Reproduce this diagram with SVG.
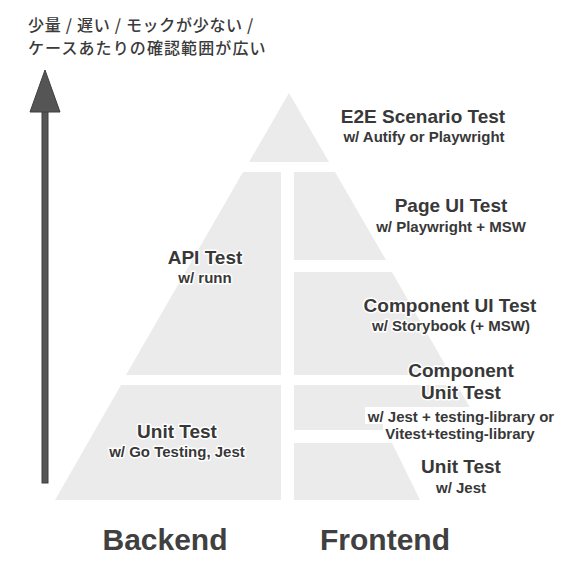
<svg xmlns="http://www.w3.org/2000/svg" width="586" height="572" viewBox="0 0 586 572">
  <style>
    .tier { fill: #ebebeb; }
    .t { font-family: "Liberation Sans", Arial, sans-serif; font-weight: bold; fill: #383838; text-anchor: middle; stroke: #ffffff; stroke-width: 3; stroke-linejoin: round; paint-order: stroke; }
    .h { font-size: 19px; }
    .s { font-size: 15px; }
    .big { font-size: 30px; fill: #404040; stroke: none; }
    .jp { font-family: "Noto Sans CJK JP", "Noto Sans", sans-serif; font-size: 16px; letter-spacing: 1.1px; font-weight: 500; fill: #3a3a3a; }
  </style>
  <rect width="586" height="572" fill="#ffffff"/>

  <g id="caption">
    <text class="jp" x="28" y="30.5" style="letter-spacing:0.7px">少量 / 遅い / モックが少ない /</text>
    <text class="jp" x="28" y="54">ケースあたりの確認範囲が広い</text>
  </g>

  <g id="axis-arrow">
    <rect x="42" y="110" width="6" height="373" fill="#555555" stroke="#3f3f3f" stroke-width="1"/>
    <polygon points="45,70 60,112 30,112" fill="#555555" stroke="#3f3f3f" stroke-width="1" stroke-linejoin="round"/>
  </g>

  <g id="e2e">
    <polygon class="tier" points="289,93 329,162 249,162"/>
    <text class="t h" x="423" y="123">E2E Scenario Test</text>
    <text class="t s" x="424" y="142">w/ Autify or Playwright</text>
  </g>

  <g id="api-test">
    <polygon class="tier" points="243,172 281,172 281,375 126,375"/>
    <text class="t h" x="205" y="264">API Test</text>
    <text class="t s" x="205" y="283">w/ runn</text>
  </g>

  <g id="backend-unit-test">
    <polygon class="tier" points="121,385 281,385 281,500 55,500"/>
    <text class="t h" x="177" y="438">Unit Test</text>
    <text class="t s" x="177" y="457">w/ Go Testing, Jest</text>
  </g>

  <g id="page-ui-test">
    <polygon class="tier" points="294,172 335,172 386,260 294,260"/>
    <text class="t h" x="451" y="212">Page UI Test</text>
    <text class="t s" x="451" y="232">w/ Playwright + MSW</text>
  </g>

  <g id="component-ui-test">
    <polygon class="tier" points="294,272 392,272 451,375 294,375"/>
    <text class="t h" x="450" y="312">Component UI Test</text>
    <text class="t s" x="451" y="331">w/ Storybook (+ MSW)</text>
  </g>

  <g id="component-unit-test">
    <polygon class="tier" points="294,385 457,385 483,430 294,430"/>
    <rect x="365" y="407" width="194" height="17" fill="#ffffff"/>
    <rect x="383" y="424" width="156" height="16" fill="#ffffff"/>
    <text class="t h" x="461" y="377">Component</text>
    <text class="t h" x="461" y="399">Unit Test</text>
    <text class="t s" x="461" y="422">w/ Jest + testing-library or</text>
    <text class="t s" x="460" y="439">Vitest+testing-library</text>
  </g>

  <g id="frontend-unit-test">
    <polygon class="tier" points="294,443 392,443 420,500 294,500"/>
    <text class="t h" x="461" y="473">Unit Test</text>
    <text class="t s" x="461" y="493">w/ Jest</text>
  </g>

  <g id="labels">
    <text class="t big" x="165" y="550">Backend</text>
    <text class="t big" x="385" y="550">Frontend</text>
  </g>

  <g id="connectors"></g>
</svg>
